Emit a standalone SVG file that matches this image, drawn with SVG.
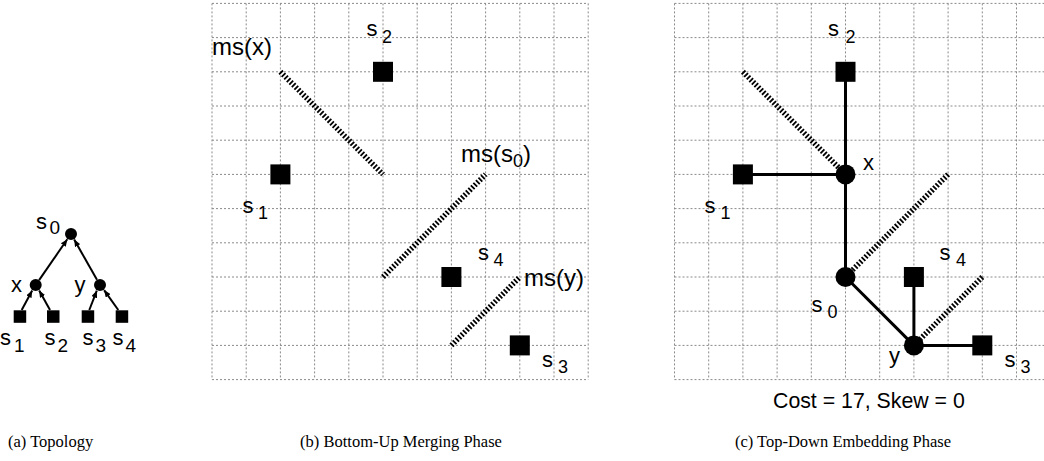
<svg xmlns="http://www.w3.org/2000/svg" width="1044" height="461" viewBox="0 0 1044 461">
<defs>
<style>
.grid{stroke:#8a8a8a;stroke-width:1;stroke-dasharray:2,2;fill:none}
.ms{stroke:#000;stroke-width:5.5;stroke-dasharray:1.8,1.8;fill:none}
.edge{stroke:#000;stroke-width:3;fill:none}
.aedge{stroke:#000;stroke-width:2;fill:none;marker-end:url(#ah)}
.lbl{font-family:"Liberation Sans",Arial,sans-serif;font-size:22px;fill:#000}
.sub{font-size:18px}
.asub{font-size:19px}
.msl{font-family:"Liberation Sans",Arial,sans-serif;font-size:24px;fill:#000}
.cost{font-family:"Liberation Sans",Arial,sans-serif;font-size:21.3px;fill:#000}
.cap{font-family:"Liberation Serif","Times New Roman",serif;font-size:16.5px;fill:#000}
</style>
<marker id="ah" markerUnits="userSpaceOnUse" markerWidth="7" markerHeight="6" refX="7" refY="3" orient="auto">
<path d="M0,0 L7,3 L0,6 z" fill="#000"/>
</marker>
</defs>
<rect width="1044" height="461" fill="#fff"/>

<g id="grid-b" class="grid">
<path d="M212,3.4V379.6M246.2,3.4V379.6M280.4,3.4V379.6M314.6,3.4V379.6M348.8,3.4V379.6M383,3.4V379.6M417.2,3.4V379.6M451.4,3.4V379.6M485.6,3.4V379.6M519.8,3.4V379.6M554,3.4V379.6M588.2,3.4V379.6"/>
<path d="M212,3.4H588.2M212,37.6H588.2M212,71.8H588.2M212,106H588.2M212,140.2H588.2M212,174.4H588.2M212,208.6H588.2M212,242.8H588.2M212,277H588.2M212,311.2H588.2M212,345.4H588.2M212,379.6H588.2"/>
</g>
<g id="grid-c" class="grid">
<path d="M674.5,3.4V379.6M708.7,3.4V379.6M742.9,3.4V379.6M777.1,3.4V379.6M811.3,3.4V379.6M845.5,3.4V379.6M879.7,3.4V379.6M913.9,3.4V379.6M948.1,3.4V379.6M982.3,3.4V379.6M1016.5,3.4V379.6M1050.7,3.4V379.6"/>
<path d="M674.5,3.4H1050.7M674.5,37.6H1050.7M674.5,71.8H1050.7M674.5,106H1050.7M674.5,140.2H1050.7M674.5,174.4H1050.7M674.5,208.6H1050.7M674.5,242.8H1050.7M674.5,277H1050.7M674.5,311.2H1050.7M674.5,345.4H1050.7M674.5,379.6H1050.7"/>
</g>

<g id="connectors">
<line class="aedge" x1="39.1" y1="280.1" x2="67.3" y2="239.3"/>
<line class="aedge" x1="97" y1="279.8" x2="74.2" y2="239.6"/>
<line class="aedge" x1="21.7" y1="310" x2="32.2" y2="290.5"/>
<line class="aedge" x1="50" y1="310" x2="39.2" y2="290.4"/>
<line class="aedge" x1="89.3" y1="310" x2="96.8" y2="290.7"/>
<line class="aedge" x1="118.3" y1="310" x2="104.1" y2="290.1"/>
<line class="ms" x1="280.4" y1="71.8" x2="383" y2="174.4"/>
<line class="ms" x1="383" y1="277" x2="485.6" y2="174.4"/>
<line class="ms" x1="451.4" y1="345.4" x2="519.8" y2="277"/>
<line class="ms" x1="742.9" y1="71.8" x2="845.5" y2="174.4"/>
<line class="ms" x1="948.1" y1="174.4" x2="845.5" y2="277"/>
<line class="ms" x1="982.3" y1="277" x2="913.9" y2="345.4"/>
<line class="edge" x1="845.5" y1="71.8" x2="845.5" y2="277"/>
<line class="edge" x1="742.9" y1="174.4" x2="845.5" y2="174.4"/>
<line class="edge" x1="845.5" y1="277" x2="913.9" y2="345.4"/>
<line class="edge" x1="913.9" y1="277" x2="913.9" y2="345.4"/>
<line class="edge" x1="913.9" y1="345.4" x2="982.3" y2="345.4"/>
</g>

<g id="a-s0"><circle cx="71" cy="234" r="6"/><text class="lbl" x="36" y="228.5">s<tspan class="asub" x="49.5" y="233.5">0</tspan></text></g>
<g id="a-x"><circle cx="35.7" cy="285" r="6"/><text class="lbl" x="11" y="291.5">x</text></g>
<g id="a-y"><circle cx="100" cy="285" r="6"/><text class="lbl" x="74.5" y="291.5">y</text></g>
<g id="a-s1"><rect x="13.7" y="310.3" width="12.5" height="12.5"/><text class="lbl" x="0" y="345">s<tspan class="asub" x="14" y="351.5">1</tspan></text></g>
<g id="a-s2"><rect x="47" y="310.3" width="12.5" height="12.5"/><text class="lbl" x="44.5" y="345">s<tspan class="asub" x="57.5" y="351.5">2</tspan></text></g>
<g id="a-s3"><rect x="81.7" y="310.3" width="12.5" height="12.5"/><text class="lbl" x="82.5" y="345">s<tspan class="asub" x="95.5" y="351.5">3</tspan></text></g>
<g id="a-s4"><rect x="115.7" y="310.3" width="12.5" height="12.5"/><text class="lbl" x="112.5" y="345">s<tspan class="asub" x="125.5" y="351.5">4</tspan></text></g>

<g id="b-s2"><rect x="373" y="61.8" width="20" height="20"/><text class="lbl" x="366.5" y="36">s<tspan class="sub" x="382" y="43">2</tspan></text></g>
<g id="b-s1"><rect x="270.4" y="164.4" width="20" height="20"/><text class="lbl" x="242.5" y="213">s<tspan class="sub" x="258" y="219">1</tspan></text></g>
<g id="b-s4"><rect x="441.4" y="267" width="20" height="20"/><text class="lbl" x="478" y="260">s<tspan class="sub" x="493.5" y="265.5">4</tspan></text></g>
<g id="b-s3"><rect x="509.8" y="335.4" width="20" height="20"/><text class="lbl" x="542" y="366.5">s<tspan class="sub" x="558" y="372.5">3</tspan></text></g>
<g id="b-msx"><text class="msl" x="212" y="55">ms(x)</text></g>
<g id="b-mss0"><text class="msl" x="461" y="161.5">ms(s<tspan class="sub" y="166.5">0</tspan><tspan y="161.5">)</tspan></text></g>
<g id="b-msy"><text class="msl" x="524" y="286">ms(y)</text></g>

<g id="c-s2"><rect x="835.5" y="61.8" width="20" height="20"/><text class="lbl" x="828" y="36">s<tspan class="sub" x="845.5" y="43">2</tspan></text></g>
<g id="c-x"><circle cx="845.5" cy="174.4" r="10"/><text class="lbl" x="863" y="170">x</text></g>
<g id="c-s1"><rect x="732.9" y="164.4" width="20" height="20"/><text class="lbl" x="704.5" y="213">s<tspan class="sub" x="720.5" y="219">1</tspan></text></g>
<g id="c-s0"><circle cx="845.5" cy="277" r="10"/><text class="lbl" x="811.5" y="311.5">s<tspan class="sub" x="827.5" y="318">0</tspan></text></g>
<g id="c-s4"><rect x="903.9" y="267" width="20" height="20"/><text class="lbl" x="939.5" y="260">s<tspan class="sub" x="956" y="265.5">4</tspan></text></g>
<g id="c-y"><circle cx="913.9" cy="345.4" r="10"/><text class="lbl" x="889" y="362.5">y</text></g>
<g id="c-s3"><rect x="972.3" y="335.4" width="20" height="20"/><text class="lbl" x="1004.5" y="366.5">s<tspan class="sub" x="1020.5" y="372.5">3</tspan></text></g>
<g id="c-cost"><text class="cost" x="773" y="407.5">Cost = 17, Skew = 0</text></g>

<g id="captions">
<text class="cap" x="8" y="447">(a) Topology</text>
<text class="cap" x="401" y="447" text-anchor="middle">(b) Bottom-Up Merging Phase</text>
<text class="cap" x="843" y="447" text-anchor="middle">(c) Top-Down Embedding Phase</text>
</g>
</svg>
